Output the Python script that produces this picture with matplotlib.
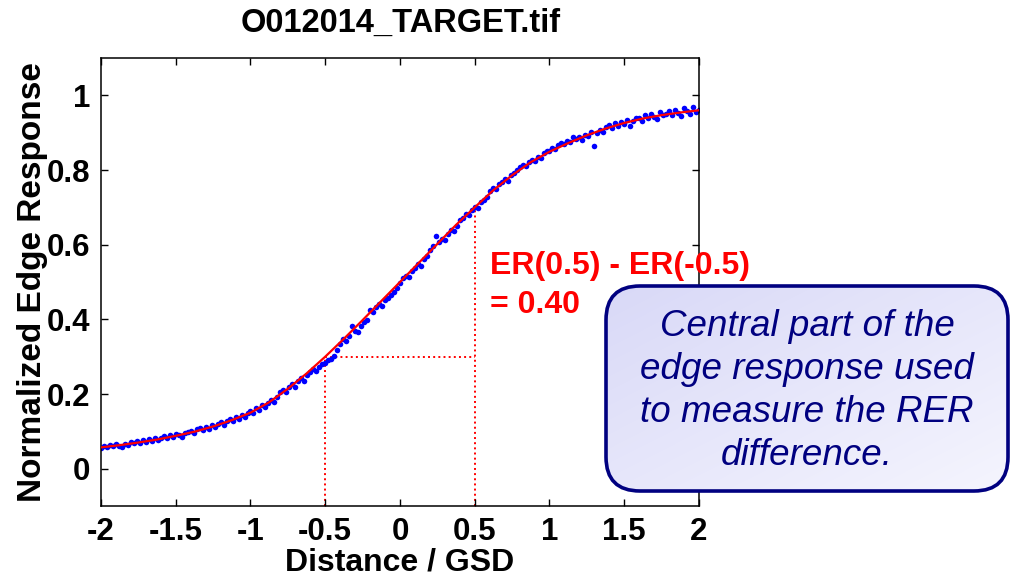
import numpy as np
import matplotlib
matplotlib.use("Agg")
import matplotlib.pyplot as plt
from matplotlib.patches import FancyBboxPatch

# fitted edge response, sampled every 0.125 GSD from -2 to 2
er_fit = [0.057, 0.063, 0.070, 0.078, 0.088, 0.099, 0.113, 0.130, 0.150,
          0.178, 0.214, 0.255, 0.300, 0.348, 0.398, 0.449, 0.500, 0.551,
          0.602, 0.653, 0.700, 0.746, 0.786, 0.821, 0.849, 0.872, 0.893,
          0.911, 0.926, 0.938, 0.947, 0.954, 0.960]

# measured edge response, one sample every 0.02 GSD from -2 to 2
er_samples = [
    0.055, 0.061, 0.058, 0.064, 0.060, 0.066, 0.062, 0.059, 0.067, 0.064,
    0.071, 0.068, 0.074, 0.070, 0.077, 0.072, 0.079, 0.075, 0.081, 0.077,
    0.083, 0.088, 0.081, 0.090, 0.086, 0.093, 0.089, 0.084, 0.095, 0.098,
    0.101, 0.096, 0.105, 0.109, 0.103, 0.112, 0.107, 0.116, 0.111, 0.120,
    0.124, 0.118, 0.129, 0.134, 0.127, 0.139, 0.133, 0.143, 0.138, 0.148,
    0.155, 0.149, 0.162, 0.158, 0.170, 0.165, 0.176, 0.183, 0.178, 0.192,
    0.205, 0.212, 0.206, 0.220, 0.226, 0.219, 0.236, 0.242, 0.236, 0.251,
    0.258, 0.268, 0.262, 0.272, 0.280, 0.283, 0.290, 0.294, 0.303, 0.318,
    0.335, 0.348, 0.342, 0.356, 0.382, 0.369, 0.366, 0.381, 0.392, 0.398,
    0.424, 0.419, 0.433, 0.441, 0.436, 0.452, 0.458, 0.466, 0.474, 0.485,
    0.497, 0.510, 0.516, 0.513, 0.530, 0.537, 0.548, 0.543, 0.561, 0.570,
    0.586, 0.596, 0.622, 0.607, 0.616, 0.612, 0.628, 0.640, 0.637, 0.651,
    0.667, 0.672, 0.682, 0.679, 0.693, 0.702, 0.698, 0.713, 0.720, 0.728,
    0.744, 0.752, 0.748, 0.762, 0.768, 0.775, 0.771, 0.786, 0.793, 0.800,
    0.808, 0.814, 0.811, 0.822, 0.828, 0.825, 0.836, 0.833, 0.845, 0.851,
    0.852, 0.860, 0.855, 0.866, 0.872, 0.869, 0.878, 0.874, 0.888, 0.883,
    0.889, 0.881, 0.895, 0.890, 0.902, 0.865, 0.898, 0.908, 0.903, 0.914,
    0.921, 0.912, 0.926, 0.918, 0.929, 0.922, 0.934, 0.917, 0.931, 0.938,
    0.940, 0.932, 0.947, 0.938, 0.951, 0.943, 0.936, 0.955, 0.946, 0.949,
    0.957, 0.948, 0.962, 0.953, 0.945, 0.966, 0.958, 0.951, 0.970, 0.955,
    0.962,
]

x_ticks = [-2, -1.5, -1, -0.5, 0, 0.5, 1, 1.5, 2]
x_tick_labels = ["-2", "-1.5", "-1", "-0.5", "0", "0.5", "1", "1.5", "2"]
y_ticks = [0, 0.2, 0.4, 0.6, 0.8, 1]
y_tick_labels = ["0", "0.2", "0.4", "0.6", "0.8", "1"]

# ER values at +/- half a GSD
half_gsd = 0.5
er_lo = 0.30
er_hi = 0.70

plt.rcParams["font.family"] = ["Liberation Sans", "DejaVu Sans"]
plt.rcParams["font.weight"] = "bold"

W, H = 1012, 576
fig = plt.figure(figsize=(W / 100, H / 100), dpi=100)
ax = fig.add_axes([101 / W, 1 - 506 / H, 598 / W, 448 / H])

x_fit = np.linspace(-2, 2, len(er_fit))
x_samples = np.linspace(-2, 2, len(er_samples))

ax.plot(x_samples, er_samples, "o", color="#0000ff", ms=4.0, mec="none", zorder=2)
ax.plot(x_fit, er_fit, "-", color="#ff0000", lw=1.6, zorder=3)

# dotted guides marking ER(-0.5) and ER(0.5)
ax.plot([-half_gsd, -half_gsd], [-0.1, er_lo], ":", color="#ff0000", lw=1.4, zorder=1)
ax.plot([-half_gsd, half_gsd], [er_lo, er_lo], ":", color="#ff0000", lw=1.4, zorder=1)
ax.plot([half_gsd, half_gsd], [-0.1, er_hi], ":", color="#ff0000", lw=1.4, zorder=1)

ax.text(0.6, 0.49, f"ER({half_gsd}) - ER(-{half_gsd})\n= {er_hi - er_lo:.2f}",
        color="#ff0000", fontsize=23, fontweight="bold", ha="left", va="center",
        linespacing=1.38)

ax.set_xlim(-2, 2)
ax.set_ylim(-0.1, 1.1)
ax.set_xticks(x_ticks)
ax.set_xticklabels(x_tick_labels)
ax.set_yticks(y_ticks)
ax.set_yticklabels(y_tick_labels)
ax.tick_params(direction="in", length=5, width=1, top=True, right=True,
               labelsize=22.5, pad=8)
for s in ax.spines.values():
    s.set_linewidth(1.1)

ax.set_xlabel("Distance / GSD", fontsize=23, fontweight="bold", va="center")
ax.xaxis.set_label_coords(0.5, -0.127)
ax.set_ylabel("Normalized Edge Response", fontsize=24, fontweight="bold", va="center")
ax.yaxis.set_label_coords(-0.114, 0.5)

fig.text(401 / W, 1 - 23 / H, "O012014_TARGET.tif", fontsize=23.5,
         fontweight="bold", ha="center", va="center")

# callout box drawn in pixel coordinates on an overlay
ov = fig.add_axes([0, 0, 1, 1], zorder=10)
ov.set_xlim(0, W)
ov.set_ylim(H, 0)
ov.axis("off")
ov.patch.set_alpha(0)

bx0, bx1, by0, by1 = 606, 1008, 286, 491
box = FancyBboxPatch((bx0, by0), bx1 - bx0, by1 - by0,
                     boxstyle="round,pad=0,rounding_size=34",
                     facecolor="none", edgecolor="#000080", lw=2.6, zorder=3)
ov.add_patch(box)

gx, gy = np.meshgrid(np.linspace(0, 1, 200), np.linspace(0, 1, 100))
t = (gx + gy) / 2
c0 = np.array([0.85, 0.85, 0.97])
c1 = np.array([0.96, 0.96, 0.995])
grad = c0[None, None, :] * (1 - t[..., None]) + c1[None, None, :] * t[..., None]
img = ov.imshow(grad, extent=[bx0, bx1, by1, by0], origin="upper",
                aspect="auto", zorder=2, interpolation="bilinear")
img.set_clip_path(box)

ov.text((bx0 + bx1) / 2, 391,
        "Central part of the\nedge response used\nto measure the RER\ndifference.",
        color="#000080", fontsize=26.5, fontstyle="italic", fontweight="normal",
        ha="center", va="center", linespacing=1.3, zorder=4)

fig.savefig("out.png", dpi=100)
